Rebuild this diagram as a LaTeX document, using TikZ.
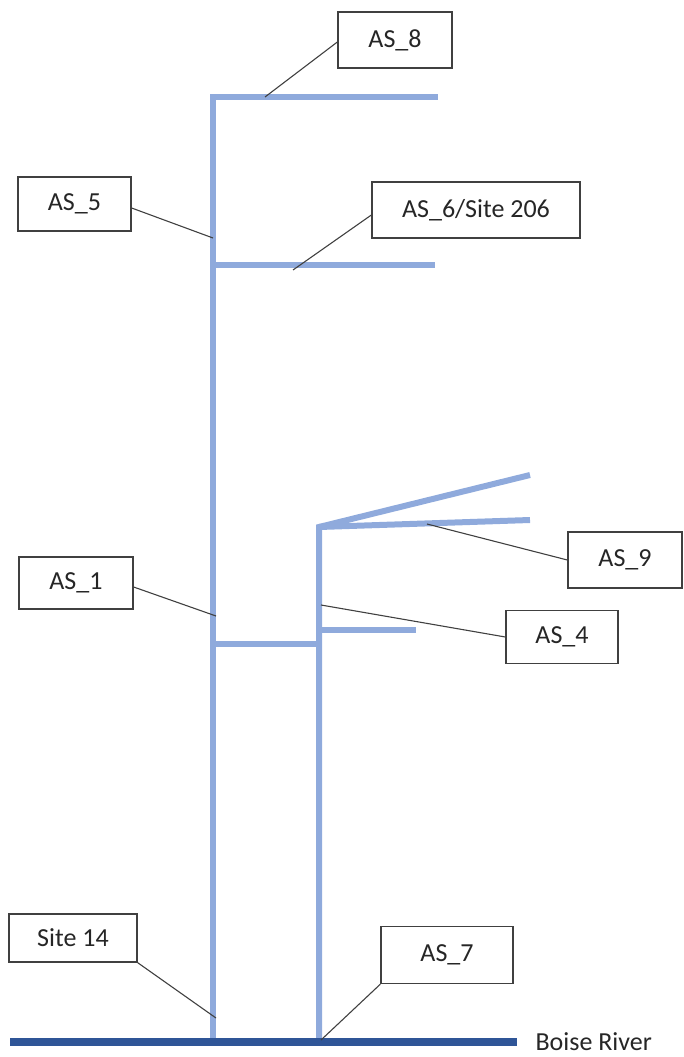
\documentclass[tikz,border=0pt]{standalone}
\usepackage{fontspec}
\setmainfont{Carlito}
\definecolor{branch}{HTML}{8FAADC}
\definecolor{river}{HTML}{2F5597}
\definecolor{edge}{HTML}{404040}
\begin{document}
\begin{tikzpicture}[x=1pt,y=-1pt,
  label box/.style={draw=edge,line width=1.3pt,fill=white,inner sep=0pt,font=\fontsize{26}{30}\selectfont,text=black!85},
  stream/.style={draw=branch,line width=6pt},
  leader/.style={draw=edge,line width=1.1pt}]
\useasboundingbox (0,0) rectangle (683,1057);
% stream network coordinates
\coordinate (t1top) at (213,97);
\coordinate (t1bot) at (213,1040);
\coordinate (b8end) at (438,97);
\coordinate (b6start) at (213,265);
\coordinate (b6end) at (435,265);
\coordinate (jA) at (213,644);
\coordinate (jB) at (319,644);
\coordinate (t2top) at (319,527);
\coordinate (t2bot) at (319,1040);
\coordinate (b4start) at (319,630);
\coordinate (b4end) at (416,630);
\coordinate (f1end) at (530,475);
\coordinate (f2end) at (530,520);
\coordinate (rw) at (10,1042);
\coordinate (re) at (517,1042);
% streams
\draw[stream] (t1bot) -- (t1top) -- (b8end);
\draw[stream] (b6start) -- (b6end);
\draw[stream] (jA) -- (jB);
\draw[stream] (t2bot) -- (t2top) -- (f1end);
\draw[stream] (t2top) -- (f2end);
\draw[stream] (b4start) -- (b4end);
\draw[river,line width=8pt] (rw) -- (re);
\node[anchor=west,font=\fontsize{26}{30}\selectfont,text=black!85] (river) at (532,1042) {Boise River};
% label boxes
\node[label box,minimum width=114pt,minimum height=56pt] (as8) at (395,40) {AS\_8};
\node[label box,minimum width=113pt,minimum height=54pt] (as5) at (74.5,204) {AS\_5};
\node[label box,minimum width=208pt,minimum height=56pt] (as6) at (476,210) {AS\_6/Site 206};
\node[label box,minimum width=114pt,minimum height=56pt] (as9) at (625,560) {AS\_9};
\node[label box,minimum width=114pt,minimum height=52pt] (as1) at (76,583) {AS\_1};
\node[label box,minimum width=112pt,minimum height=53pt] (as4) at (562,637) {AS\_4};
\node[label box,minimum width=128pt,minimum height=48pt] (s14) at (73,938) {Site 14};
\node[label box,minimum width=132pt,minimum height=57pt] (as7) at (447,955) {AS\_7};
% leader targets
\coordinate (p8) at (265,97);
\coordinate (p5) at (213,238);
\coordinate (p6) at (293,270);
\coordinate (p9) at (427,524);
\coordinate (p4) at (321,605);
\coordinate (p1) at (216,616);
\coordinate (p14) at (216,1018);
\coordinate (p7) at (321,1040);
% leaders
\draw[leader] (as8.west |- 0,42) -- (p8);
\draw[leader] (as5.east |- 0,208) -- (p5);
\draw[leader] (as6.west |- 0,215) -- (p6);
\draw[leader] (as9.west) -- (p9);
\draw[leader] (as4.west) -- (p4);
\draw[leader] (as1.east |- 0,587) -- (p1);
\draw[leader] (s14.south east) -- (p14);
\draw[leader] (as7.south west) -- (p7);
\end{tikzpicture}
\end{document}
